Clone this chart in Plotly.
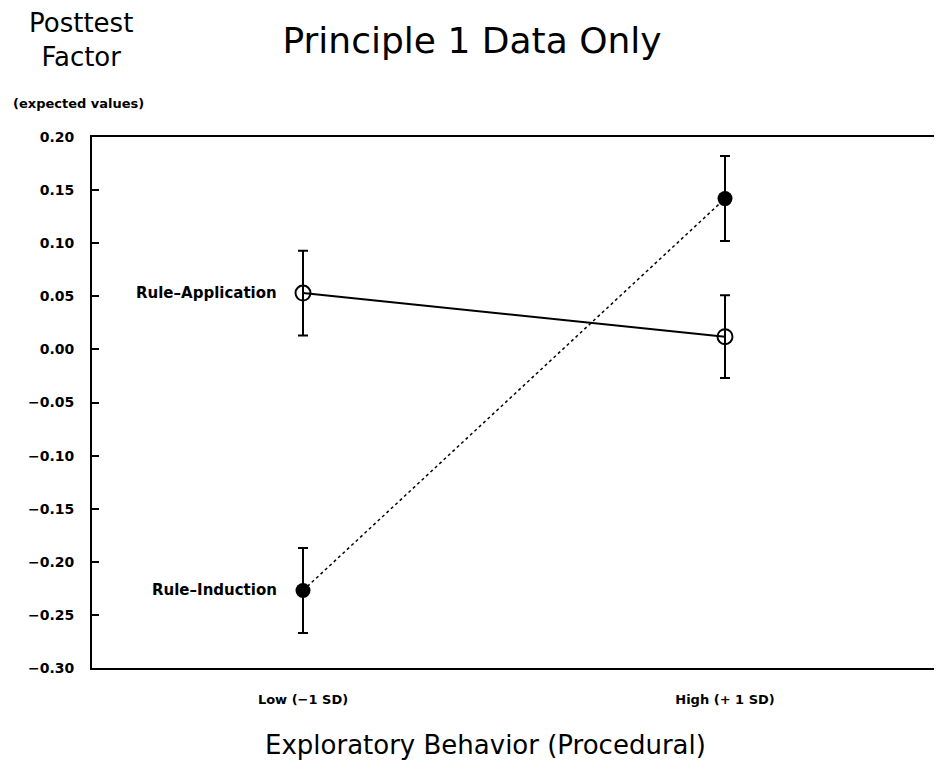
import plotly.graph_objects as go

categories = ["Low (\u22121 SD)", "High (+ 1 SD)"]
cat_pos = [0, 1]
rule_application = [0.053, 0.012]
rule_application_err = [0.040, 0.039]
rule_induction = [-0.227, 0.142]
rule_induction_err = [0.040, 0.040]
y_ticks = [0.20, 0.15, 0.10, 0.05, 0.00, -0.05, -0.10, -0.15, -0.20, -0.25, -0.30]
y_tick_labels = ["0.20", "0.15", "0.10", "0.05", "0.00", "\u22120.05", "\u22120.10",
                 "\u22120.15", "\u22120.20", "\u22120.25", "\u22120.30"]

font_main = "'DejaVu Sans', sans-serif"

fig = go.Figure()
fig.add_trace(go.Scatter(
    x=cat_pos, y=rule_application, mode="lines+markers", name="Rule-Application",
    line=dict(color="black", width=2),
    marker=dict(symbol="circle-open", size=15, color="black", line=dict(width=2)),
    error_y=dict(type="data", array=rule_application_err, color="black", thickness=2, width=5),
))
fig.add_trace(go.Scatter(
    x=cat_pos, y=rule_induction, mode="lines+markers", name="Rule-Induction",
    line=dict(color="black", width=1.5, dash="dot"),
    marker=dict(symbol="circle", size=15, color="black"),
    error_y=dict(type="data", array=rule_induction_err, color="black", thickness=2, width=5),
))

for name, vals in [("Rule\u2013Application", rule_application), ("Rule\u2013Induction", rule_induction)]:
    fig.add_annotation(x=cat_pos[0], y=vals[0], text="<b>" + name + "</b>", showarrow=False,
                       xanchor="right", xshift=-24, font=dict(size=15, color="black", family=font_main))

fig.update_layout(
    width=930, height=760,
    margin=dict(l=84, r=0, t=129, b=100),
    paper_bgcolor="white", plot_bgcolor="white",
    showlegend=False,
    title=dict(text="Principle 1 Data Only", x=0.499, xanchor="center", y=0.958, yanchor="middle",
               font=dict(size=36, color="black", family=font_main)),
    xaxis=dict(range=[-0.5, 1.5], tickvals=cat_pos,
               ticktext=["<b>" + c + "</b>" for c in categories],
               tickfont=dict(size=13, color="black", family=font_main),
               showgrid=False, zeroline=False, showline=True, linecolor="black", linewidth=2,
               mirror=True, ticks="", ticklabelstandoff=18),
    yaxis=dict(range=[-0.30, 0.20], tickvals=y_ticks,
               ticktext=["<b>" + t + "</b>" for t in y_tick_labels],
               tickfont=dict(size=14, color="black", family=font_main),
               showgrid=False, zeroline=False, showline=True, linecolor="black", linewidth=2,
               mirror=True, ticks="inside", ticklen=7, tickwidth=1.5, tickcolor="black",
               ticklabelstandoff=13),
)

fig.add_annotation(xref="paper", yref="paper", x=0.466, y=-0.145, xanchor="center", yanchor="middle",
                   text="Exploratory Behavior (Procedural)", showarrow=False,
                   font=dict(size=26, color="black", family=font_main))
fig.add_annotation(xref="paper", yref="paper", x=-0.013, y=1.182, xanchor="center", yanchor="middle",
                   text="Posttest<br>Factor", showarrow=False, align="center",
                   font=dict(size=26, color="black", family=font_main))
fig.add_annotation(xref="paper", yref="paper", x=-0.0957, y=1.064, xanchor="left", yanchor="middle",
                   text="<b>(expected values)</b>", showarrow=False,
                   font=dict(size=13, color="black", family=font_main))

fig.write_html("out.html")
